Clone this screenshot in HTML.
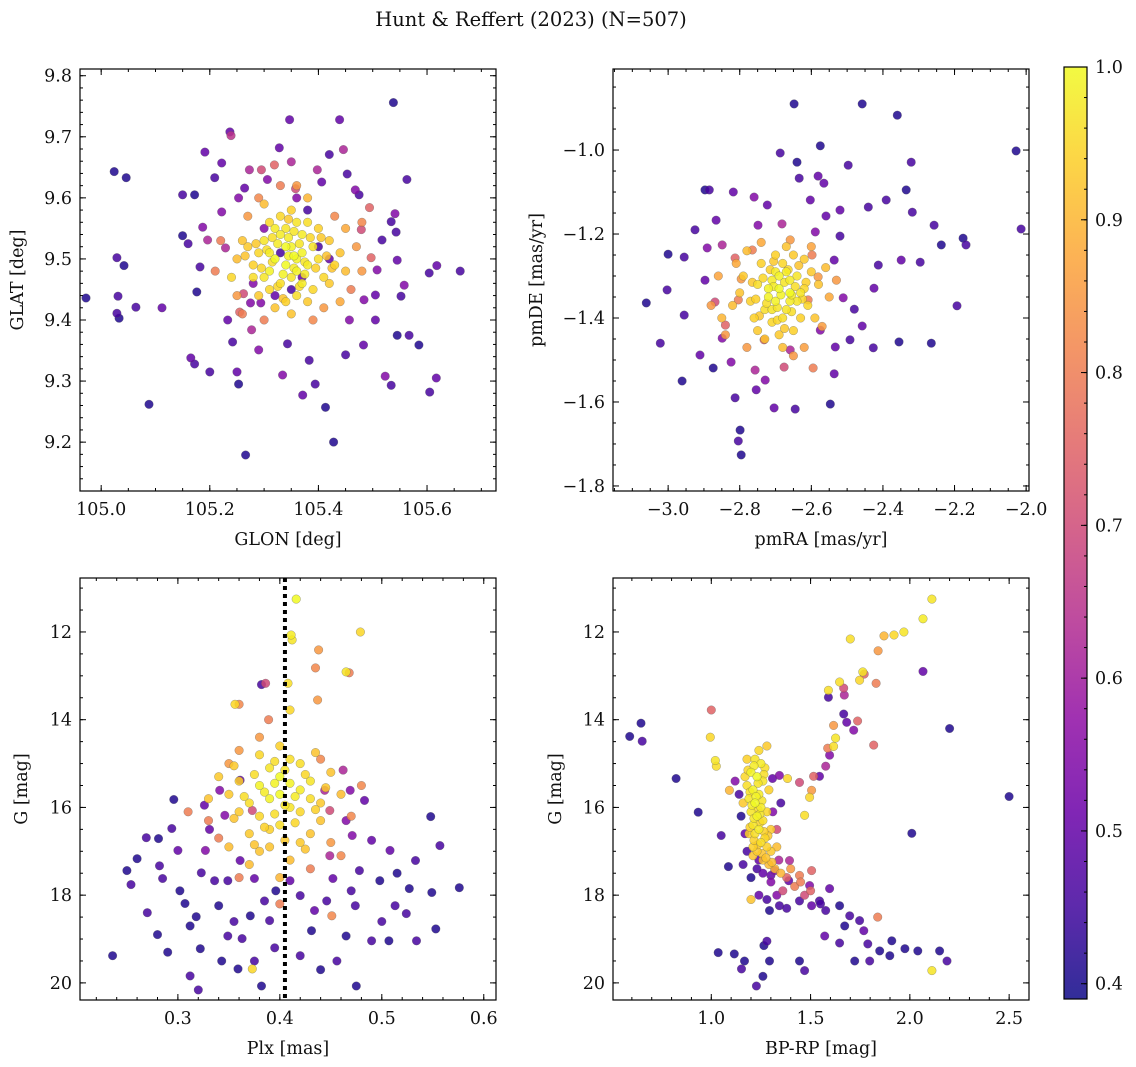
<!DOCTYPE html>
<html><head><meta charset="utf-8"><title>Hunt & Reffert (2023)</title>
<style>
html,body{margin:0;padding:0;background:#fff;}
svg{display:block;font-family:"DejaVu Serif","Liberation Serif",serif;}
</style></head>
<body>
<svg id="fig" width="1136" height="1067" viewBox="0 0 1136 1067" xmlns="http://www.w3.org/2000/svg">
<defs>
<linearGradient id="cbgrad" x1="0" y1="1" x2="0" y2="0"></linearGradient>
</defs>
<text x="531" y="26" text-anchor="middle" font-size="19.5" fill="#111">Hunt &amp; Reffert (2023) (N=507)</text>
<g id="panels"></g>
<g id="cbar"></g>
</svg>
<script>
// ---- data: [x, y, membership probability] ----
const glonGlatProb = [
[104.972,9.436,.41],[105.024,9.643,.41],[105.029,9.502,.46],[105.029,9.411,.46],[105.033,9.403,.41],[105.031,9.439,.46],[105.046,9.633,.41],[105.042,9.489,.41],[105.088,9.262,.41],[105.064,9.421,.46],[105.112,9.420,.5],[105.150,9.605,.46],[105.172,9.605,.41],[105.150,9.538,.41],[105.160,9.525,.46],[105.165,9.338,.5],[105.172,9.328,.46],[105.176,9.446,.41],[105.182,9.487,.46],[105.187,9.552,.55],[105.191,9.675,.5],[105.2,9.315,.46],[105.196,9.531,.62],[105.209,9.633,.46],[105.222,9.657,.5],[105.222,9.577,.55],[105.229,9.518,.62],[105.237,9.708,.5],[105.239,9.702,.65],[105.233,9.400,.5],[105.242,9.364,.46],[105.25,9.315,.5],[105.253,9.295,.41],[105.253,9.6,.55],[105.264,9.616,.5],[105.266,9.179,.41],[105.273,9.646,.62],[105.275,9.428,.55],[105.277,9.384,.62],[105.262,9.443,.7],[105.255,9.413,.75],[105.294,9.428,.55],[105.29,9.351,.55],[105.295,9.646,.7],[105.306,9.630,.55],[105.319,9.654,.75],[105.328,9.682,.5],[105.334,9.310,.55],[105.343,9.361,.46],[105.347,9.728,.5],[105.350,9.659,.62],[105.358,9.615,.7],[105.371,9.277,.5],[105.383,9.334,.46],[105.394,9.295,.46],[105.398,9.646,.62],[105.406,9.626,.5],[105.413,9.257,.41],[105.420,9.671,.46],[105.428,9.2,.41],[105.439,9.728,.5],[105.446,9.679,.62],[105.45,9.343,.46],[105.453,9.639,.46],[105.457,9.400,.55],[105.468,9.613,.55],[105.475,9.605,.46],[105.479,9.548,.7],[105.483,9.359,.5],[105.494,9.584,.75],[105.497,9.502,.75],[105.505,9.400,.5],[105.508,9.482,.55],[105.517,9.531,.46],[105.523,9.308,.55],[105.534,9.293,.46],[105.538,9.756,.41],[105.541,9.574,.55],[105.543,9.544,.46],[105.545,9.498,.5],[105.534,9.561,.46],[105.545,9.375,.41],[105.558,9.457,.55],[105.563,9.630,.46],[105.567,9.375,.46],[105.585,9.359,.41],[105.604,9.477,.46],[105.605,9.282,.46],[105.617,9.305,.5],[105.618,9.489,.5],[105.661,9.480,.46],[105.552,9.439,.46],[105.505,9.441,.5],[105.484,9.433,.55],
[105.33,9.51,.46],[105.37,9.47,.5],[105.40,9.52,.46],[105.30,9.55,.55],[105.35,9.45,.46],[105.42,9.50,.5],[105.28,9.46,.55],[105.38,9.58,.46],[105.32,9.44,.5],[105.36,9.60,.55],
[105.27,9.57,.85],[105.43,9.57,.82],[105.46,9.45,.8],[105.25,9.44,.85],[105.45,9.55,.88],[105.29,9.60,.82],[105.41,9.42,.85],[105.22,9.53,.8],[105.47,9.52,.85],[105.33,9.62,.8],[105.39,9.40,.82],[105.26,9.41,.8],[105.48,9.48,.85],[105.21,9.48,.8],[105.36,9.62,.85],[105.44,9.43,.88],[105.30,9.40,.8],[105.48,9.56,.82],
[105.30,9.53,.97],[105.32,9.55,.98],[105.34,9.52,1],[105.36,9.50,.99],[105.38,9.49,.98],[105.35,9.47,.97],[105.33,9.46,.96],[105.31,9.48,.99],[105.29,9.51,.95],[105.37,9.54,.98],[105.39,9.52,.97],[105.40,9.50,.96],[105.41,9.47,.95],[105.36,9.44,.96],[105.34,9.43,.94],[105.31,9.45,.95],[105.28,9.49,.94],[105.27,9.52,.93],[105.33,9.57,.95],[105.35,9.58,.94],[105.38,9.56,.96],[105.42,9.53,.93],[105.43,9.49,.94],[105.37,9.46,.98],[105.32,9.50,1],[105.35,9.52,.99],[105.30,9.47,.97],[105.26,9.53,.92],[105.29,9.44,.93],[105.39,9.45,.95],[105.44,9.51,.92],[105.36,9.56,.97],[105.31,9.56,.95],[105.34,9.49,1],[105.37,9.51,.99],[105.33,9.54,.98],[105.40,9.55,.94],[105.28,9.47,.96],[105.35,9.41,.92],[105.38,9.43,.93],[105.25,9.50,.91],[105.42,9.46,.93],[105.32,9.42,.92],[105.30,9.59,.91],[105.24,9.47,.95],[105.38,9.60,.9],[105.45,9.48,.91],[105.36,9.48,.99],[105.31,9.51,.98],[105.34,9.55,.97],
[105.325,9.525,.98],[105.345,9.505,.99],[105.365,9.525,.97],[105.355,9.485,.98],[105.315,9.495,.96],[105.375,9.495,.97],[105.335,9.475,.99],[105.385,9.535,.95],[105.305,9.515,.96],[105.345,9.535,.98],[105.395,9.485,.94],[105.325,9.455,.95],[105.365,9.455,.96],[105.285,9.525,.93],[105.405,9.535,.93],[105.355,9.545,.97],[105.315,9.535,.96],[105.375,9.475,.98],[105.295,9.485,.95],[105.415,9.505,.92],[105.345,9.565,.93],[105.335,9.435,.92],[105.265,9.505,.92],[105.425,9.485,.92],[105.355,9.505,1]
];
const pmraPmdeProb = [
[-2.648,-0.890,.41],[-2.458,-0.890,.41],[-2.360,-0.917,.41],[-2.028,-1.002,.41],[-2.014,-1.188,.46],[-2.321,-1.029,.46],[-2.575,-0.990,.41],[-2.687,-1.007,.46],[-2.640,-1.029,.41],[-2.565,-1.079,.5],[-2.497,-1.036,.46],[-2.897,-1.095,.41],[-2.885,-1.095,.46],[-2.818,-1.1,.5],[-2.760,-1.112,.55],[-2.723,-1.131,.5],[-2.634,-1.067,.46],[-2.603,-1.119,.5],[-2.581,-1.062,.5],[-2.520,-1.143,.5],[-2.441,-1.136,.46],[-2.391,-1.119,.46],[-2.335,-1.095,.41],[-2.318,-1.148,.46],[-2.257,-1.179,.46],[-2.176,-1.210,.41],[-2.168,-1.226,.46],[-2.237,-1.226,.41],[-2.193,-1.371,.46],[-2.349,-1.262,.5],[-2.296,-1.267,.46],[-2.413,-1.274,.46],[-2.425,-1.329,.5],[-2.355,-1.457,.41],[-2.427,-1.471,.46],[-2.265,-1.460,.41],[-2.492,-1.452,.46],[-2.458,-1.419,.5],[-2.533,-1.469,.5],[-2.480,-1.379,.46],[-2.536,-1.533,.5],[-2.547,-1.605,.41],[-2.645,-1.617,.46],[-2.704,-1.614,.5],[-2.799,-1.667,.41],[-2.804,-1.693,.46],[-2.796,-1.726,.41],[-2.754,-1.571,.5],[-2.813,-1.590,.46],[-2.874,-1.519,.41],[-2.961,-1.55,.41],[-3.022,-1.460,.46],[-3.061,-1.364,.41],[-3.003,-1.333,.46],[-3.0,-1.248,.41],[-2.955,-1.255,.46],[-2.955,-1.393,.46],[-2.911,-1.488,.5],[-2.925,-1.19,.46],[-2.897,-1.31,.5],[-2.891,-1.233,.55],[-2.866,-1.167,.5],[-2.849,-1.226,.62],[-2.849,-1.448,.55],[-2.869,-1.362,.7],[-2.824,-1.505,.55],[-2.757,-1.524,.62],[-2.729,-1.548,.55],[-2.676,-1.517,.7],[-2.595,-1.519,.8],[-2.659,-1.476,.62],[-2.575,-1.429,.55],[-2.511,-1.352,.55],[-2.536,-1.262,.5],[-2.520,-1.205,.46],[-2.589,-1.195,.55],[-2.559,-1.157,.5],[-2.682,-1.176,.62],[-2.749,-1.179,.55],[-2.813,-1.257,.75],[-2.796,-1.307,.85],[-2.804,-1.357,.8],[-2.840,-1.417,.75],[-2.732,-1.452,.75],[-2.609,-1.357,.8],[-2.581,-1.302,.85],[-2.598,-1.250,.8],[-2.765,-1.238,.8],[-2.659,-1.214,.85],
[-2.86,-1.30,.87],[-2.84,-1.44,.85],[-2.55,-1.35,.88],[-2.57,-1.42,.86],[-2.78,-1.47,.85],[-2.60,-1.23,.87],[-2.88,-1.37,.85],[-2.74,-1.22,.88],[-2.62,-1.47,.86],[-2.53,-1.31,.85],[-2.81,-1.27,.88],[-2.65,-1.49,.85],
[-2.69,-1.33,1],[-2.72,-1.35,.99],[-2.66,-1.31,.98],[-2.64,-1.36,.97],[-2.70,-1.29,.98],[-2.75,-1.32,.96],[-2.67,-1.38,.97],[-2.62,-1.33,.95],[-2.73,-1.38,.96],[-2.68,-1.27,.95],[-2.65,-1.25,.93],[-2.71,-1.41,.95],[-2.77,-1.36,.94],[-2.60,-1.29,.93],[-2.63,-1.40,.94],[-2.69,-1.44,.93],[-2.74,-1.27,.94],[-2.80,-1.34,.92],[-2.66,-1.34,1],[-2.70,-1.36,.99],[-2.71,-1.31,.98],[-2.64,-1.30,.97],[-2.68,-1.40,.96],[-2.76,-1.40,.94],[-2.61,-1.37,.95],[-2.58,-1.32,.92],[-2.67,-1.23,.92],[-2.73,-1.45,.92],[-2.79,-1.30,.93],[-2.65,-1.43,.94],[-2.82,-1.37,.91],[-2.62,-1.26,.93],[-2.70,-1.25,.94],[-2.59,-1.40,.92],[-2.72,-1.33,.99],[-2.66,-1.36,.98],[-2.69,-1.30,.99],[-2.75,-1.43,.93],[-2.63,-1.34,.97],[-2.68,-1.47,.91],[-2.85,-1.40,.9],[-2.56,-1.28,.91],[-2.78,-1.24,.91],[-2.71,-1.38,.97],[-2.67,-1.29,.98],
[-2.685,-1.345,.99],[-2.705,-1.325,.98],[-2.675,-1.315,.97],[-2.655,-1.345,.98],[-2.725,-1.365,.96],[-2.695,-1.375,.97],[-2.645,-1.325,.96],[-2.735,-1.305,.95],[-2.665,-1.285,.95],[-2.715,-1.285,.94],[-2.625,-1.355,.95],[-2.755,-1.355,.94],[-2.695,-1.405,.95],[-2.655,-1.385,.96],[-2.745,-1.395,.93],[-2.615,-1.315,.94],[-2.675,-1.425,.93],[-2.765,-1.315,.93],[-2.635,-1.275,.92],[-2.705,-1.265,.93]
];
const plxGProb = [
[0.416,11.25,1],[0.411,12.07,.98],[0.412,12.18,.97],[0.438,12.41,.85],[0.479,12.0,.95],[0.465,12.91,.97],[0.468,12.93,.8],[0.435,12.82,.82],[0.408,13.17,.96],[0.386,13.17,.7],[0.382,13.2,.46],[0.437,13.55,.85],[0.356,13.65,.95],[0.36,13.65,.82],[0.41,13.78,.95],[0.389,14.0,.8],
[0.236,19.38,.41],[0.254,17.76,.46],[0.250,17.44,.41],[0.260,17.17,.41],[0.269,16.69,.46],[0.281,16.71,.41],[0.282,17.33,.46],[0.285,17.62,.46],[0.294,16.48,.46],[0.296,15.82,.41],[0.302,17.9,.41],[0.307,18.19,.41],[0.312,18.70,.41],[0.312,19.84,.46],[0.320,20.16,.46],[0.318,18.49,.41],[0.3,16.98,.5],[0.323,17.49,.46],[0.322,19.22,.41],[0.327,16.98,.55],[0.331,16.50,.5],[0.336,17.67,.46],[0.340,18.24,.41],[0.343,19.50,.41],[0.349,18.93,.46],[0.359,19.68,.41],[0.363,18.99,.46],[0.371,18.47,.41],[0.375,19.50,.46],[0.382,20.07,.41],[0.390,18.58,.46],[0.396,17.90,.41],[0.420,19.38,.46],[0.431,18.81,.41],[0.446,18.13,.46],[0.456,19.50,.46],[0.465,18.93,.41],[0.475,20.07,.41],[0.490,19.04,.46],[0.478,17.44,.46],[0.498,17.67,.41],[0.507,19.04,.41],[0.524,18.42,.46],[0.527,17.85,.41],[0.534,19.04,.46],[0.549,17.94,.41],[0.553,18.77,.41],[0.557,16.87,.46],[0.548,16.21,.41],[0.576,17.83,.41],[0.508,16.98,.5],[0.513,18.24,.46],[0.533,17.21,.46],[0.471,16.64,.55],[0.490,16.75,.5],[0.465,16.30,.55],[0.452,17.62,.5],[0.474,18.24,.46],[0.434,18.35,.5],[0.420,18.01,.46],[0.375,17.62,.5],[0.361,17.21,.5],[0.349,17.67,.46],[0.385,18.13,.46],[0.410,17.67,.5],[0.449,17.10,.62],[0.346,16.18,.55],[0.361,15.38,.5],[0.341,15.61,.55],[0.373,16.07,.7],[0.326,15.95,.5],[0.449,16.07,.7],[0.444,15.61,.62],[0.469,15.61,.55],[0.483,15.84,.5],[0.462,15.15,.62],[0.28,18.9,.41],[0.27,18.4,.46],[0.29,19.3,.41],[0.355,18.6,.46],[0.395,19.2,.46],[0.44,19.7,.41],[0.5,18.6,.46],[0.515,17.5,.41],[0.47,17.9,.46],
[0.36,14.7,.85],[0.44,14.9,.82],[0.33,16.3,.8],[0.47,16.2,.82],[0.43,17.4,.8],[0.36,17.6,.8],[0.45,16.8,.85],[0.31,16.1,.8],[0.48,15.5,.82],[0.35,15.0,.85],[0.451,18.47,.82],[0.34,16.7,.8],[0.40,18.2,.8],[0.46,17.1,.82],[0.38,14.4,.85],
[0.38,15.5,.99],[0.40,15.3,1],[0.42,15.6,.98],[0.39,15.8,.99],[0.41,16.0,.97],[0.37,15.9,.96],[0.43,15.4,.97],[0.38,16.2,.95],[0.40,16.4,.96],[0.42,16.1,.95],[0.36,15.4,.94],[0.44,15.9,.93],[0.39,15.1,.97],[0.41,14.9,.96],[0.37,16.6,.93],[0.43,16.6,.92],[0.40,15.7,1],[0.38,14.8,.95],[0.42,15.0,.96],[0.35,15.7,.93],[0.45,15.2,.92],[0.39,16.9,.92],[0.41,17.2,.91],[0.36,16.1,.93],[0.44,16.3,.92],[0.40,17.6,.9],[0.37,17.3,.91],[0.373,19.68,.95],[0.46,15.7,.91],[0.33,15.8,.92],[0.41,15.45,.99],[0.39,16.5,.94],[0.43,15.8,.96],[0.40,14.6,.94],[0.38,17.0,.92],[0.42,16.8,.93],[0.35,16.9,.91],[0.34,15.3,.93],
[0.385,15.65,.98],[0.395,15.45,.99],[0.405,15.95,.97],[0.415,15.75,.98],[0.375,15.25,.96],[0.425,15.25,.95],[0.365,15.75,.96],[0.435,16.05,.94],[0.395,16.15,.96],[0.415,16.35,.95],[0.385,16.45,.94],[0.405,15.15,.97],[0.355,16.25,.92],[0.445,15.55,.93],[0.375,16.85,.92],[0.425,16.95,.92],[0.395,14.95,.96],[0.355,15.05,.93],[0.435,14.75,.92],[0.405,16.75,.93]
];
const bprpGProb = [
[0.589,14.38,.41],[0.646,14.08,.41],[0.652,14.49,.46],[0.823,15.34,.41],[0.934,16.11,.41],[1.0,13.78,.75],[0.995,14.40,.95],[1.02,14.93,.97],[1.025,15.06,.96],[1.091,15.61,.9],[1.05,16.64,.46],[1.086,17.35,.41],[1.035,19.31,.41],
[2.111,11.25,.97],[2.066,11.70,.98],[1.97,12.0,.97],[1.92,12.07,.95],[1.87,12.09,.9],[1.84,12.43,.85],[1.70,12.16,.96],[1.763,12.91,.97],[1.77,12.96,.75],[1.747,13.1,.95],[1.83,13.17,.8],[1.646,13.14,.96],[1.667,13.28,.7],[1.59,13.33,.96],[1.59,13.49,.46],[1.67,13.44,.62],[1.667,13.87,.46],[1.682,14.06,.5],[1.616,14.13,.85],[1.717,14.24,.55],[1.626,14.42,.97],[1.616,14.61,.96],[1.586,14.65,.8],[1.818,14.58,.75],[1.737,14.03,.75],[1.596,14.81,.55],[1.576,15.06,.62],[1.545,15.29,.5],[1.505,15.61,.85],[1.495,15.77,.95],[1.384,15.34,.95],[1.444,15.43,.7],[1.515,15.29,.75],[1.343,15.27,.55],[1.308,15.34,.5],[1.470,16.18,.96],
[2.5,15.75,.41],[2.066,12.9,.5],[2.20,14.2,.41],[2.01,16.59,.41],
[1.24,17.2,.5],[1.32,17.44,.55],[1.39,17.67,.5],[1.444,17.55,.8],[1.495,17.78,.55],[1.505,17.44,.75],[1.545,18.13,.46],[1.596,17.85,.5],[1.576,18.35,.46],[1.646,18.24,.41],[1.697,18.47,.46],[1.672,18.70,.41],[1.747,18.58,.46],[1.768,18.81,.5],[1.838,18.50,.8],[1.788,19.11,.46],[1.848,19.27,.41],[1.909,19.04,.41],[1.975,19.22,.41],[2.04,19.27,.41],[2.15,19.27,.41],[2.187,19.50,.46],[2.111,19.72,.97],[1.899,19.38,.41],[1.722,19.5,.41],[1.798,19.50,.46],[1.646,19.09,.46],[1.571,18.93,.5],[1.444,19.50,.41],[1.470,19.72,.46],[1.343,18.24,.46],[1.293,18.35,.41],[1.30,17.55,.5],[1.394,17.21,.62],[1.444,18.13,.46],[1.505,18.24,.5],[1.265,19.15,.41],[1.293,19.50,.41],[1.227,20.07,.46],[1.167,19.50,.41],[1.152,19.68,.46],[1.116,19.34,.41],[1.26,19.85,.41],[1.28,19.05,.46],
[1.15,16.2,.41],[1.14,15.7,.46],[1.17,16.6,.5],[1.31,16.1,.55],[1.34,17.2,.62],[1.38,17.6,.75],[1.42,17.8,.8],[1.40,17.4,.85],[1.36,17.9,.7],[1.45,17.7,.8],[1.30,17.7,.55],[1.26,17.5,.5],[1.23,17.4,.46],[1.18,17.0,.46],[1.20,17.6,.41],[1.24,18.0,.5],[1.28,18.1,.46],[1.33,18.0,.55],[1.38,18.3,.46],[1.47,18.0,.7],[1.50,17.9,.75],[1.55,18.2,.46],[1.12,15.4,.55],[1.35,15.9,.46],[1.33,16.5,.7],[1.16,17.3,.46],
[1.22,14.9,.97],[1.25,15.0,.98],[1.20,15.2,.99],[1.23,15.3,1],[1.26,15.4,.97],[1.18,15.5,.96],[1.21,15.6,.99],[1.24,15.7,.98],[1.19,15.8,.97],[1.22,15.9,1],[1.25,16.0,.98],[1.20,16.1,.97],[1.23,16.2,.99],[1.26,16.3,.96],[1.21,16.4,.97],[1.24,16.5,.98],[1.22,16.6,.96],[1.27,16.7,.95],[1.25,16.8,.96],[1.28,16.9,.94],[1.23,17.0,.93],[1.30,17.0,.93],[1.26,17.2,.92],[1.29,17.3,.91],[1.32,17.4,.9],[1.35,17.5,.9],[1.27,15.1,.96],[1.17,15.3,.95],[1.29,15.6,.94],[1.16,15.9,.93],[1.28,16.1,.95],[1.19,16.6,.94],[1.30,16.5,.93],[1.18,14.9,.94],[1.24,14.7,.95],[1.28,14.6,.93],[1.21,17.1,.92],[1.33,16.9,.91],[1.20,18.1,.92],[1.21,16.9,.94],
[1.215,15.05,.98],[1.235,15.45,.97],[1.195,15.65,.96],[1.255,15.85,.97],[1.205,15.95,.98],[1.235,16.05,.96],[1.215,16.25,.97],[1.245,16.35,.95],[1.195,16.45,.94],[1.265,16.55,.94],[1.235,16.85,.93],[1.255,17.05,.92],[1.275,17.15,.92],[1.185,15.15,.95],[1.265,15.25,.96],[1.225,15.75,.99],[1.245,16.15,.97],[1.285,16.65,.93],[1.215,16.75,.94],[1.305,17.25,.91]
];
const cbarTicks = [0.4,0.5,0.6,0.7,0.8,0.9,1.0];
const probMin = 0.39, probMax = 1.0;
const plxMean = 0.405;

const NS='http://www.w3.org/2000/svg';
const plasma=[[13,8,135],[65,4,157],[106,0,168],[143,13,164],[177,42,144],[204,71,120],[225,100,98],[242,132,75],[252,166,54],[252,206,37],[240,249,33]];
function cmap(t){t=Math.max(0,Math.min(1,t));const f=t*10,i=Math.min(9,Math.floor(f)),r=f-i;const a=plasma[i],b=plasma[i+1];return 'rgb('+[0,1,2].map(k=>Math.round(a[k]+(b[k]-a[k])*r)).join(',')+')';}
function el(tag,attrs,parent){const e=document.createElementNS(NS,tag);for(const k in attrs)e.setAttribute(k,attrs[k]);parent.appendChild(e);return e;}
function fmt(v,d){const s=Math.abs(v).toFixed(d);return (v<-1e-9?'\u2212':'')+s;}
function range(a,b,s){const out=[];const n0=Math.ceil(a/s-1e-6),n1=Math.floor(b/s+1e-6);for(let n=n0;n<=n1;n++)out.push(+(n*s).toFixed(6));return out;}

const panelsG=document.getElementById('panels');
function panel(cfg){
  const g=el('g',{},panelsG);
  
  
  const sx=v=>cfg.x0+(v-cfg.xd[0])/(cfg.xd[1]-cfg.xd[0])*(cfg.x1-cfg.x0);
  const sy=cfg.invert?(v=>cfg.y0+(v-cfg.yd[0])/(cfg.yd[1]-cfg.yd[0])*(cfg.y1-cfg.y0)):(v=>cfg.y1-(v-cfg.yd[0])/(cfg.yd[1]-cfg.yd[0])*(cfg.y1-cfg.y0));
  const clip='clip-'+cfg.name;
  const cp=el('clipPath',{id:clip},g);el('rect',{x:cfg.x0,y:cfg.y0,width:cfg.x1-cfg.x0,height:cfg.y1-cfg.y0},cp);
  const pts=el('g',{'clip-path':'url(#'+clip+')'},g);
  const data=cfg.data.slice().sort((a,b)=>a[2]-b[2]);
  data.forEach(d=>{
    const c=el('circle',{cx:sx(d[0]).toFixed(1),cy:sy(d[1]).toFixed(1),r:4.3,fill:cmap((d[2]-probMin)/(probMax-probMin)),'fill-opacity':0.85,stroke:'rgba(90,90,90,0.55)','stroke-width':0.5},pts);
    
    
  });
  if(cfg.vline!==undefined){
    const l=el('line',{x1:sx(cfg.vline),x2:sx(cfg.vline),y1:cfg.y0,y2:cfg.y1,stroke:'#000','stroke-width':4,'stroke-dasharray':'4,4'},pts);
    
    
  }
  const ax=el('g',{stroke:'#000','stroke-width':1},g);
  range(cfg.xd[0],cfg.xd[1],cfg.xminor).forEach(v=>{const x=sx(v);el('line',{x1:x,x2:x,y1:cfg.y1,y2:cfg.y1-3},ax);el('line',{x1:x,x2:x,y1:cfg.y0,y2:cfg.y0+3},ax);});
  range(cfg.yd[0],cfg.yd[1],cfg.yminor).forEach(v=>{const y=sy(v);el('line',{x1:cfg.x0,x2:cfg.x0+3,y1:y,y2:y},ax);el('line',{x1:cfg.x1,x2:cfg.x1-3,y1:y,y2:y},ax);});
  const lab=el('g',{'font-size':17.5,fill:'#111'},g);
  range(cfg.xd[0],cfg.xd[1],cfg.xmajor).forEach(v=>{const x=sx(v);el('line',{x1:x,x2:x,y1:cfg.y1,y2:cfg.y1-6},ax);el('line',{x1:x,x2:x,y1:cfg.y0,y2:cfg.y0+6},ax);
    const t=el('text',{x:x,y:cfg.y1+24,'text-anchor':'middle'},lab);t.textContent=fmt(v,cfg.xdec);
    
    });
  range(cfg.yd[0],cfg.yd[1],cfg.ymajor).forEach(v=>{const y=sy(v);el('line',{x1:cfg.x0,x2:cfg.x0+6,y1:y,y2:y},ax);el('line',{x1:cfg.x1,x2:cfg.x1-6,y1:y,y2:y},ax);
    const t=el('text',{x:cfg.x0-8,y:y+6,'text-anchor':'end'},lab);t.textContent=fmt(v,cfg.ydec);
    
    });
  el('rect',{x:cfg.x0,y:cfg.y0,width:cfg.x1-cfg.x0,height:cfg.y1-cfg.y0,fill:'none',stroke:'#000','stroke-width':1.2},g);
  const xt=el('text',{x:(cfg.x0+cfg.x1)/2,y:cfg.y1+54,'text-anchor':'middle','font-size':17.5,fill:'#111'},g);xt.textContent=cfg.xlabel;
  
  
  const cy=(cfg.y0+cfg.y1)/2;
  const yt=el('text',{x:cfg.ylx,y:cy,'text-anchor':'middle','font-size':17.5,fill:'#111',transform:'rotate(-90 '+cfg.ylx+' '+cy+')'},g);yt.textContent=cfg.ylabel;
  
  
}
panel({name:'glon-glat-panel',data:glonGlatProb,x0:80,x1:496,y0:69,y1:491,xd:[104.961,105.727],yd:[9.12,9.811],xmajor:0.2,xminor:0.05,ymajor:0.1,yminor:0.02,xdec:1,ydec:1,xlabel:'GLON [deg]',ylabel:'GLAT [deg]',ylx:23});
panel({name:'pm-panel',data:pmraPmdeProb,x0:613,x1:1029,y0:69,y1:491,xd:[-3.154,-1.992],yd:[-1.812,-0.807],xmajor:0.2,xminor:0.05,ymajor:0.2,yminor:0.05,xdec:1,ydec:1,xlabel:'pmRA [mas/yr]',ylabel:'pmDE [mas/yr]',ylx:542});
panel({name:'plx-g-panel',data:plxGProb,x0:80,x1:496,y0:578,y1:1000,xd:[0.204,0.612],yd:[10.77,20.39],invert:true,xmajor:0.1,xminor:0.02,ymajor:2,yminor:0.5,xdec:1,ydec:0,xlabel:'Plx [mas]',ylabel:'G [mag]',ylx:27,vline:plxMean});
panel({name:'cmd-panel',data:bprpGProb,x0:613,x1:1029,y0:578,y1:1000,xd:[0.505,2.6],yd:[10.77,20.39],invert:true,xmajor:0.5,xminor:0.1,ymajor:2,yminor:0.5,xdec:1,ydec:0,xlabel:'BP-RP [mag]',ylabel:'G [mag]',ylx:561});

const grad=document.getElementById('cbgrad');
for(let i=0;i<=10;i++){el('stop',{offset:(i/10),'stop-color':cmap(i/10),'stop-opacity':0.85},grad);}
const cb=document.getElementById('cbar');


const cbx0=1064,cbx1=1087,cby0=67,cby1=999;
el('rect',{x:cbx0,y:cby0,width:cbx1-cbx0,height:cby1-cby0,fill:'url(#cbgrad)'},cb);
const cys=v=>cby1-(v-probMin)/(probMax-probMin)*(cby1-cby0);
range(probMin,probMax,0.02).forEach(v=>{const y=cys(v);el('line',{x1:cbx1,x2:cbx1-3,y1:y,y2:y,stroke:'#000'},cb);});
cbarTicks.forEach(v=>{const y=cys(v);el('line',{x1:cbx1,x2:cbx1-6,y1:y,y2:y,stroke:'#000'},cb);
  const t=el('text',{x:cbx1+8,y:y+6,'font-size':17.5,fill:'#111'},cb);t.textContent=v.toFixed(1);
  
  });
el('rect',{x:cbx0,y:cby0,width:cbx1-cbx0,height:cby1-cby0,fill:'none',stroke:'#000','stroke-width':1.2},cb);
</script>
</body></html>
